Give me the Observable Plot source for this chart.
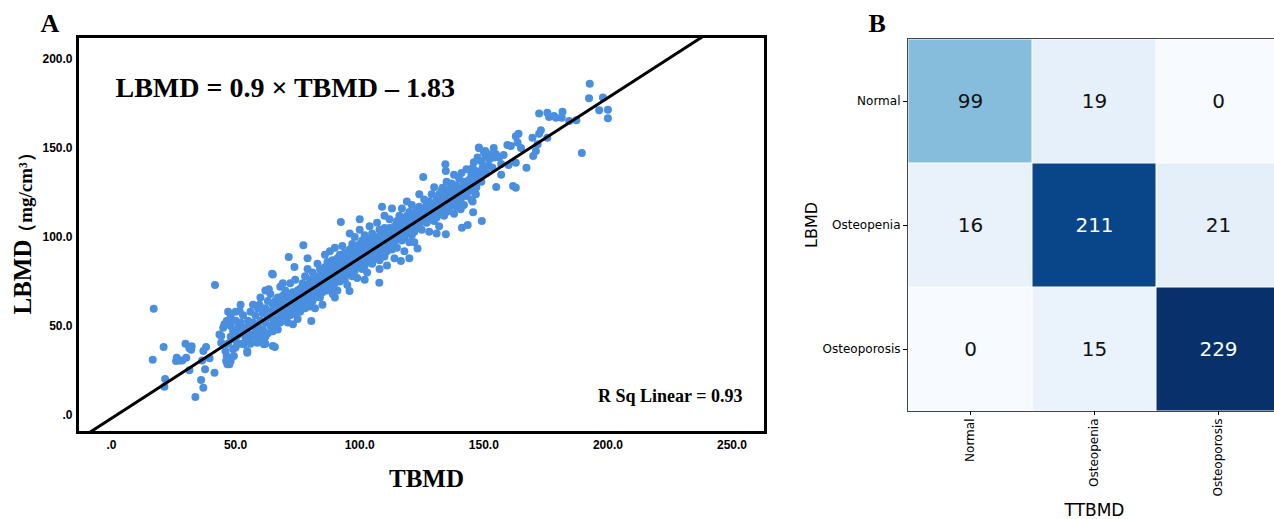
<!DOCTYPE html>
<html><head><meta charset="utf-8">
<script src="https://cdn.jsdelivr.net/npm/d3@7"></script>
<script src="https://cdn.jsdelivr.net/npm/@observablehq/plot@0.6"></script>
<style>
html,body{margin:0;padding:0;background:#fff;overflow:hidden;}
#wrap{position:relative;width:1274px;height:519px;overflow:hidden;background:#fff;}
#wrap svg{position:absolute;top:0;}
</style></head><body><div id="wrap"></div>
<script>
// Panel A: TBMD (x) vs LBMD (y)
const tbmdLbmd = [
[17,59.7],[16.6,31.1],[21,38.2],[21.6,20.2],[21.3,15.9],[33.8,10.1],[29.8,40],[32.3,38.6],[32.1,36.7],[31.4,37.5],
[26.3,32.2],[27.4,30.7],[28.5,30.7],[26,30.3],[30.1,32.2],[31.4,25.1],[36.1,19.7],[37,15.3],[38.1,38.2],[37,36],
[36.5,30.7],[39.5,31.9],[41.5,23.8],[37.7,25.7],[41.7,73],[44.2,44.4],[43.5,45.3],[45.5,51],[46.4,52.8],[45.9,36],
[46.4,33.1],[47.5,28.5],[46.2,30.3],[46,51],[48,52],[44.2,40.6],
[47,40],[48,44],[48,50],[49,47],[49,37],[50,42],[50,53],[50,58],[51,45],[51,49],[51.6,58.4],[52,40],[52,52],[53,46],
[53,56],[53.3,39.7],[54,43],[54,49],[54.7,36],[54.7,35],[55,46],[55,53],[55.3,42.5],[56,40],[56,50],[56,58],[48,55],
[47,58],[49.3,33.1],[48,30.3],[46.7,28.5],[45,49],[47,53],[52,62],[50,38],
[57,44],[57,52],[57,62],[57.3,45.3],[58,48],[58,56],[58.7,40.6],[59,50],[59,60],[59.6,62],[60,41.6],[60,45],[60,53],
[60,66],[61,48],[61,57],[61.4,39.7],[62,44],[62,52],[62,60],[62,70],[63,46],[63,55],[63,64],[63.4,70.6],[64,50],[64,58],
[64,68],[65,38.8],[65,47],[65,54],[65,62],[65,79],[65.8,38.2],[66,50],[66,58],[66,64],[64.7,79.4],[62,40],[59,44],
[67,54],[67,60],[67,66],[68,52],[68,58],[68,63],[68,72],[69,56],[69,61],[69,67],[70,55],[70,60],[70,64],[70,70],[71,58],
[71,63],[71,68],[71.4,88.8],[72,56],[72,61],[72,66],[72,74],[73,59],[73,64],[73,69],[73.1,51],[73.7,83.1],[74,57],[74,62],
[74,67],[74,76],[75,60],[75,65],[75,70],[75,54],[69,74],[67,48],[71,52],[76,58],[76,66],
[76,71],[77,62],[77,68],[77,74],[77.3,95.3],[78,60],[78,65],[78,70],[78,78],[79,63],[79,68],[79,73],[79,82],[80,61],
[80,66],[80,71],[80,76],[80.5,52.8],[81,64],[81,69],[81,74],[81,80],[82,66],[82,71],[82,76],[82,60],[83,68],[83,73],
[83,78],[83,85],[84,66],[84,71],[84,76],[84,82],[85,69],[85,74],[85,79],[85,62],[86,72],[86,77],[86,83],[79,88],
[87,70],[87,75],[87,80],[87,86],[88,73],[88,78],[88,83],[88,92],[89,71],[89,76],[89,81],[89,87],[89.2,67.8],[90,74],
[90,79],[90,84],[90,94],[91,77],[91,82],[91,88],[91,70],[92,75],[92,80],[92,85],[92,90],[92.4,108.4],[93,78],[93,83],
[93,88],[93,95],[94,76],[94,81],[94,86],[94,91],[95,79],[95,84],[95,89],[95,73],[95.9,69.7],[96,82],[96,87],[96,93],
[90,66],[86,90],
[97,78],[97,84],[97,89],[97,96],[98,81],[98,86],[98,92],[98,100],[99,83],[99,88],[99,94],[99,77],[100,85],[100,90],
[100,96],[100,104],[101,82],[101,87],[101,92],[101,98],[102,84],[102,89],[102,94],[102,101],[103,86],[103,91],[103,97],
[103,80],[104,88],[104,93],[104,99],[104,106],[105,85],[105,90],[105,95],[105,102],[106,92],[106,98],[106,88],[100,110],
[96,102],[102,76],
[107,90],[107,95],[107,100],[107,108],[107.9,74.3],[108,87],[108,93],[108,98],[108,104],[109,91],[109,96],[109,101],
[109,117],[110,89],[110,94],[110,99],[110,105],[110,112],[111,92],[111,97],[111,102],[111,84],[112,95],[112,100],
[112,105],[112,110],[113,93],[113,98],[113,103],[113,116],[114,96],[114,101],[114,106],[114,88],[115,99],[115,104],
[115,109],[115,94],[116,101],[116,106],[116,112],[116.6,86.5],[108,82],
[117,98],[117,103],[117,108],[117,116],[118,100],[118,105],[118,110],[118,92],[119,102],[119,107],[119,112],[119,120],
[120,97],[120,104],[120,109],[120,114],[121,101],[121,106],[121,111],[121,118],[122,103],[122,108],[122,113],[122,97],
[123,105],[123,110],[123,115],[123.3,93.6],[124,107],[124,112],[124,117],[124,124],[125,104],[125,109],[125,114],
[125.6,133.7],[126,111],[126,116],[126,121],[127,108],[127,113],[127,119],[120,88],
[128,110],[128,115],[128,120],[128,103],[129,112],[129,117],[129,124],[130,109],[130,114],[130,119],[130,128],[131,111],
[131,116],[131,121],[132,113],[132,118],[132,124],[132,106],[133,115],[133,120],[133,126],[133.4,127.7],[134,112],
[134,117],[134,122],[134.5,140.8],[134.7,101.5],[134.7,137.1],[135,114],[135,119],[135,125],[135,131],[136,116],
[136,121],[136,127],[137,118],[137,123],[137,130],[138,113],[138,120],[138,126],[138,135],[131,102],
[139,117],[139,123],[139,129],[140,120],[140,126],[140,133],[140.7,115.6],[141,122],[141,128],[141,136],[141.2,105.2],
[142,118],[142,125],[142,131],[143,123],[143,129],[143,138],[143.5,106.7],[144,126],[144,132],[145,121],[145,128],
[145,135],[145.5,125.8],[145.5,138.9],[145.5,120],[145.7,113.9],[146,130],[146,142],[146.8,137.1],[146.8,131.5],
[146.8,124],[147,134],[147,128],[148,150.2],[148.1,149.8],[148.8,142.7],[148,136],[149,131],[149.2,109],[149.5,135.2],
[150,140],[150.6,148.3],
[151,136],[152,140],[152.2,143.6],[153.5,138.9],[154,150],[154.2,144.6],[155,128.1],[156.2,144.6],[157,141],[157,135],
[158,146],[159.5,151.7],[160,140.4],[160.9,151.1],[161.8,128.7],[162.9,127.7],[162.9,141.7],[162.9,156.6],[163.6,153],
[164,158],[165,150],[167.2,138.9],[169.6,155.8],[169.9,145.5],[171,148.3],[172.3,158],[172.3,169.3],[175.6,155.8],
[175.6,169.8],[176.3,167.4],[178.3,168],[179.1,167],[181.4,167],[181.7,170.4],[184.4,165.2],[187.3,165.6],[189.5,147.2],
[192.4,177.9],[192.7,186.1],[196.5,171.2],[198,178.3],[200,171.5],[200,166.7],
[150.1,147.4],[150.8,144.6],[147.5,144.6],[152.2,146.5],[154.9,146.5],[149.5,138.9],[171.7,152.1],[173,160]
];
const fitSlope = 0.9;
const fitIntercept = -1.83;
const equationText = "LBMD = 0.9 × TBMD – 1.83";
const rSquaredText = "R Sq Linear = 0.93";
const xTicks = [0, 50, 100, 150, 200, 250];
const xTickLabels = [".0", "50.0", "100.0", "150.0", "200.0", "250.0"];
const yTicks = [0, 50, 100, 150, 200];
const yTickLabels = [".0", "50.0", "100.0", "150.0", "200.0"];

// Panel B: confusion matrix (rows LBMD, columns TTBMD)
const categories = ["Normal", "Osteopenia", "Osteoporosis"];
const rowNormal = [99, 19, 0];
const rowOsteopenia = [16, 211, 21];
const rowOsteoporosis = [0, 15, 229];

const serif = "'Liberation Serif','Times New Roman',serif";
const sans = "'Liberation Sans',Arial,sans-serif";
const dejavu = "'DejaVu Sans',sans-serif";

const xDomain = [-13.7, 263.5];
const yDomain = [-9.8, 212.6];
const fitLine = xDomain.map(x => ({x, y: fitSlope * x + fitIntercept}));

const chartA = Plot.plot({
  width: 790, height: 519,
  marginLeft: 77, marginRight: 25, marginTop: 36, marginBottom: 87,
  x: {domain: xDomain},
  y: {domain: yDomain},
  style: {background: "transparent", fontFamily: sans, color: "#000"},
  marks: [
    Plot.dot(tbmdLbmd, {x: d => d[0], y: d => d[1], r: 4, fill: "#4a8fdf", stroke: null, clip: true}),
    Plot.line(fitLine, {x: "x", y: "y", stroke: "#000", strokeWidth: 3, clip: true}),
    Plot.frame({stroke: "#000", strokeWidth: 3}),
    Plot.axisX(xTicks, {tickSize: 0, tickPadding: 8, tickFormat: d => xTickLabels[xTicks.indexOf(d)],
      fontSize: 12, fontWeight: "bold", fontFamily: sans, label: null}),
    Plot.axisY(yTicks, {tickSize: 0, tickPadding: 5, tickFormat: d => yTickLabels[yTicks.indexOf(d)],
      fontSize: 12, fontWeight: "bold", fontFamily: sans, label: null}),
    Plot.text([equationText], {text: d => d, frameAnchor: "top-left", dx: 38, dy: 41, textAnchor: "start",
      lineAnchor: "top", fontSize: 28, fontWeight: "bold", fontFamily: serif}),
    Plot.text([rSquaredText], {text: d => d, frameAnchor: "bottom-right", dx: -23, dy: -43, textAnchor: "end",
      lineAnchor: "top", fontSize: 18, fontWeight: "bold", fontFamily: serif}),
    Plot.text(["A"], {text: d => d, frameAnchor: "top-left", dx: -37, dy: -22.5, textAnchor: "start",
      lineAnchor: "top", fontSize: 26, fontWeight: "bold", fontFamily: serif}),
    Plot.text(["TBMD"], {text: d => d, frameAnchor: "bottom", dx: 5, dy: 37, textAnchor: "middle",
      lineAnchor: "top", fontSize: 25, fontWeight: "bold", fontFamily: serif}),
    Plot.text(["LBMD"], {text: d => d, frameAnchor: "left", rotate: -90, dx: -55, dy: 42.5, textAnchor: "middle",
      lineAnchor: "middle", fontSize: 25, fontWeight: "bold", fontFamily: serif}),
    Plot.text(["（mg/cm³）"], {text: d => d, frameAnchor: "left", rotate: -90, dx: -52, dy: -42, textAnchor: "middle",
      lineAnchor: "middle", fontSize: 19, fontWeight: "bold", fontFamily: serif})
  ]
});

const rows = [rowNormal, rowOsteopenia, rowOsteoporosis];
const cells = categories.flatMap((r, i) => categories.map((c, j) => ({row: r, col: c, value: rows[i][j]})));
const maxValue = d3.max(cells, d => d.value);

const chartB = Plot.plot({
  width: 520, height: 519,
  marginLeft: 117, marginRight: 29, marginTop: 38, marginBottom: 108,
  x: {domain: categories, padding: 0},
  y: {domain: categories, padding: 0},
  color: {type: "linear", scheme: "blues", domain: [0, maxValue]},
  style: {background: "transparent", fontFamily: dejavu, color: "#000"},
  marks: [
    Plot.cell(cells, {x: "col", y: "row", fill: "value", inset: 0.5}),
    Plot.text(cells, {filter: d => d.value <= maxValue / 2, x: "col", y: "row", text: d => String(d.value),
      fill: "#111", fontSize: 20, fontFamily: dejavu}),
    Plot.text(cells, {filter: d => d.value > maxValue / 2, x: "col", y: "row", text: d => String(d.value),
      fill: "#fff", fontSize: 20, fontFamily: dejavu}),
    Plot.frame({stroke: "#444", strokeWidth: 1}),
    Plot.axisY({tickSize: 4, tickPadding: 3, fontSize: 12, fontFamily: dejavu, label: null}),
    Plot.axisX({tickSize: 4, tickPadding: 3, tickRotate: -90, fontSize: 12, fontFamily: dejavu, label: null}),
    Plot.text(["LBMD"], {text: d => d, frameAnchor: "left", rotate: -90, dx: -96, textAnchor: "middle",
      lineAnchor: "middle", fontSize: 16, fontFamily: dejavu}),
    Plot.text(["TTBMD"], {text: d => d, frameAnchor: "bottom", dy: 99, textAnchor: "middle",
      lineAnchor: "middle", fontSize: 17, fontFamily: dejavu}),
    Plot.text(["B"], {text: d => d, frameAnchor: "top-left", dx: -39, dy: -24.5, textAnchor: "start",
      lineAnchor: "top", fontSize: 26, fontWeight: "bold", fontFamily: serif})
  ]
});

const wrap = document.getElementById("wrap");
chartA.style.left = "0px";
chartB.style.left = "790px";
chartA.style.maxWidth = "none";
chartB.style.maxWidth = "none";
wrap.appendChild(chartA);
wrap.appendChild(chartB);
</script></body></html>
